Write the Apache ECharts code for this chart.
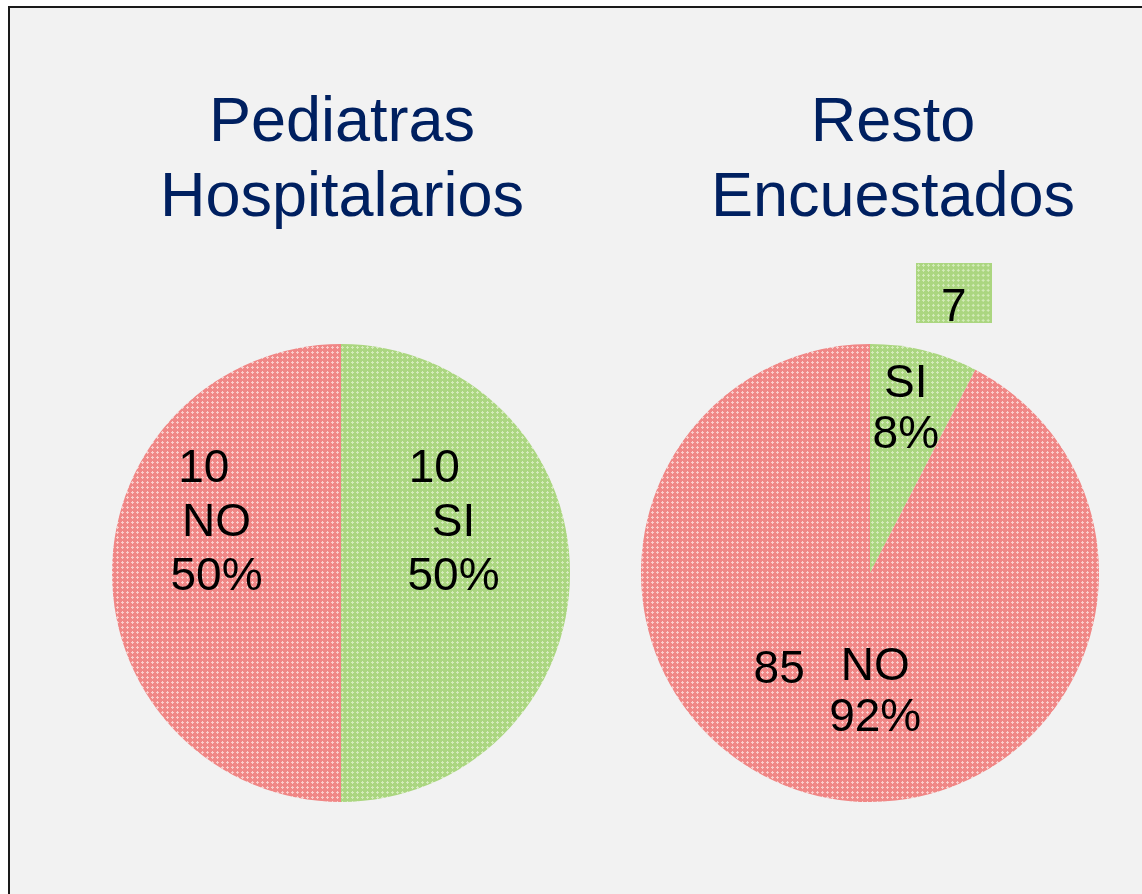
<!DOCTYPE html>
<html>
<head>
<meta charset="utf-8">
<script src="https://cdn.jsdelivr.net/npm/echarts@6/dist/echarts.min.js"></script>
<style>
  html, body { margin: 0; padding: 0; background: #ffffff; }
  #main { width: 1142px; height: 894px; }
</style>
</head>
<body>
<div id="main"></div>
<script>
// datos
var categorias = ['SI', 'NO'];
var pediatras = [10, 10];
var resto = [7, 85];
var titulos = ['Pediatras\nHospitalarios', 'Resto\nEncuestados'];

// trama de puntos (como en el original)
function trama(base, claro, w, h) {
    var c = document.createElement('canvas');
    c.width = w || 5;
    c.height = h || 5;
    var ctx = c.getContext('2d');
    ctx.fillStyle = base;
    ctx.fillRect(0, 0, c.width, c.height);
    ctx.fillStyle = claro;
    for (var x = 0; x < c.width; x += 5) {
        for (var y = 0; y < c.height; y += 5) {
            [[2, 1], [1, 2], [2, 2], [3, 2], [2, 3]].forEach(function (p) {
                ctx.fillRect(x + p[0], y + p[1], 1, 1);
            });
        }
    }
    return c;
}
var verde = { image: trama('#ABD680', '#D5ECBB'), repeat: 'repeat' };
var rosa = { image: trama('#F08786', '#FACDCB'), repeat: 'repeat' };
var colores = [verde, rosa];
// fondo de la caja del valor (la imagen se estira, por eso va a tamaño real)
var cajaVerde = { image: trama('#ABD680', '#D5ECBB', 76, 60) };

var fuente = '"Liberation Sans", Arial, sans-serif';

function datos(valores, etiquetas) {
    return valores.map(function (v, i) {
        var item = { name: categorias[i], value: v, itemStyle: { color: colores[i] } };
        if (etiquetas) item.label = etiquetas[i];
        return item;
    });
}

var myChart = echarts.init(document.getElementById('main'));

var sinBorde = {
    textBorderWidth: 0,
    textBorderColor: 'transparent',
    textShadowBlur: 0,
    textShadowColor: 'transparent'
};

var etiqueta = Object.assign({
    show: true,
    position: 'inside',
    color: '#000',
    fontSize: 46,
    fontFamily: fuente,
    align: 'center'
}, sinBorde);

option = {
    animation: false,
    backgroundColor: '#ffffff',
    graphic: [{
        type: 'rect',
        shape: { x: 9, y: 7, width: 1200, height: 1000 },
        style: { fill: '#F2F2F2', stroke: '#1a1a1a', lineWidth: 2 },
        z: -10
    }],
    title: [{
        text: titulos[0],
        left: 337,
        top: 81,
        textAlign: 'center',
        textStyle: { color: '#002060', fontSize: 63, fontWeight: 'normal', fontFamily: fuente, lineHeight: 75 }
    }, {
        text: titulos[1],
        left: 888,
        top: 81,
        textAlign: 'center',
        textStyle: { color: '#002060', fontSize: 63, fontWeight: 'normal', fontFamily: fuente, lineHeight: 75 }
    }],
    series: [{
        // Pediatras Hospitalarios
        type: 'pie',
        center: [341, 573],
        radius: [0, 229],
        startAngle: 90,
        clockwise: true,
        percentPrecision: 0,
        silent: true,
        labelLine: { show: false },
        label: Object.assign({}, etiqueta, {
            formatter: '{c}\n{b}\n{d}%',
            lineHeight: 54
        }),
        data: datos(pediatras, [
            { offset: [-5, -50], formatter: '{c}   \n{b}\n{d}%' },
            { offset: [-7, -50], formatter: '{c}  \n{b}\n{d}%' }
        ])
    }, {
        // Resto Encuestados: nombre y porcentaje
        type: 'pie',
        center: [870, 573],
        radius: [0, 229],
        startAngle: 90,
        clockwise: true,
        percentPrecision: 0,
        silent: true,
        labelLine: { show: false },
        label: Object.assign({}, etiqueta, {
            formatter: '{b}\n{d}%',
            lineHeight: 51
        }),
        data: datos(resto, [{ offset: [8, -49] }, { offset: [33, 6] }])
    }, {
        // Resto Encuestados: valores
        type: 'pie',
        center: [870, 573],
        radius: [0, 229],
        startAngle: 90,
        clockwise: true,
        silent: true,
        z: 5,
        itemStyle: { color: 'transparent' },
        labelLine: { show: false },
        label: Object.assign({}, etiqueta, { formatter: '{c}' }),
        data: resto.map(function (v, i) {
            var item = { name: categorias[i], value: v, itemStyle: { color: 'transparent' } };
            if (i === 0) {
                item.label = Object.assign({
                    offset: [56, -166],
                    backgroundColor: cajaVerde,
                    padding: [0, 25, 0, 25],
                    formatter: '{s| }\n{v|{c}}',
                    rich: {
                        s: Object.assign({ fontSize: 2, lineHeight: 30, color: 'transparent' }, sinBorde),
                        v: Object.assign({ fontSize: 46, fontFamily: fuente, color: '#000', lineHeight: 30 }, sinBorde)
                    }
                }, sinBorde);
            } else {
                item.label = { offset: [-63, -17] };
            }
            return item;
        })
    }]
};
myChart.setOption(option);
</script>
</body>
</html>
